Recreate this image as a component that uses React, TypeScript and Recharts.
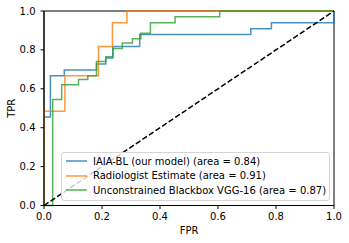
import {
  LineChart,
  Line,
  XAxis,
  YAxis,
  Legend,
  ReferenceArea,
} from "recharts";

// ROC points (corner points, like sklearn's roc_curve output)
const iaiaFpr = [0, 0, 0.022, 0.022, 0.07, 0.07, 0.181, 0.181, 0.213, 0.213, 0.237, 0.237, 0.33, 0.33, 0.713, 0.713, 0.784, 0.784, 1.0, 1.0];
const iaiaTpr = [0, 0.455, 0.455, 0.667, 0.667, 0.697, 0.697, 0.727, 0.727, 0.758, 0.758, 0.818, 0.818, 0.879, 0.879, 0.909, 0.909, 0.939, 0.939, 1.0];

const radioFpr = [0, 0, 0.072, 0.072, 0.188, 0.188, 0.236, 0.236, 0.286, 0.286, 1.0];
const radioTpr = [0, 0.485, 0.485, 0.667, 0.667, 0.818, 0.818, 0.939, 0.939, 1.0, 1.0];

const vggFpr = [0, 0.03, 0.03, 0.061, 0.061, 0.119, 0.119, 0.151, 0.151, 0.181, 0.181, 0.213, 0.213, 0.238, 0.238, 0.27, 0.27, 0.305, 0.305, 0.334, 0.334, 0.367, 0.367, 0.452, 0.452, 0.606, 0.606, 1.0];
const vggTpr = [0, 0, 0.545, 0.545, 0.621, 0.621, 0.648, 0.648, 0.667, 0.667, 0.74, 0.74, 0.765, 0.765, 0.807, 0.807, 0.836, 0.836, 0.857, 0.857, 0.885, 0.885, 0.939, 0.939, 0.97, 0.97, 1.0, 1.0];

const chanceFpr = [0, 1];
const chanceTpr = [0, 1];

const ticks = [0, 0.2, 0.4, 0.6, 0.8, 1.0];

const seriesNames = [
  "IAIA-BL (our model) (area = 0.84)",
  "Radiologist Estimate (area = 0.91)",
  "Unconstrained Blackbox VGG-16 (area = 0.87)",
];

const toPoints = (xs: number[], ys: number[]) =>
  xs.map((x, i) => ({ x, y: ys[i] }));

const font = "'DejaVu Sans', sans-serif";

function RocLegend({ payload }: any) {
  const items = (payload || []).filter((p: any) => p.type !== "none");
  return (
    <div
      style={{
        background: "rgba(255,255,255,0.8)",
        border: "1px solid #d5d5d5",
        borderRadius: 3,
        padding: "1px 4px 2px 3px",
        fontFamily: font,
        fontSize: 10,
        color: "#000",
        boxSizing: "border-box",
        width: 269,
      }}
    >
      {items.map((p: any) => (
        <div
          key={p.value}
          style={{ display: "flex", alignItems: "center", height: 14.5 }}
        >
          <svg width={24} height={4} style={{ marginRight: 4, flexShrink: 0 }}>
            <line x1={1} y1={2} x2={22} y2={2} stroke={p.color} strokeOpacity={0.8} strokeWidth={1.5} />
          </svg>
          <span style={{ whiteSpace: "nowrap" }}>{p.value}</span>
        </div>
      ))}
    </div>
  );
}

export default function App() {
  const tickStyle = { fill: "#000", fontSize: 10, fontFamily: font };
  return (
    <div style={{ position: "absolute", left: 0, top: 0, background: "#fff" }}>
      <LineChart
        width={349}
        height={243}
        margin={{ top: 11, right: 15, bottom: 0, left: 0 }}
      >
        <XAxis
          type="number"
          dataKey="x"
          domain={[0, 1]}
          ticks={ticks}
          tickFormatter={(v: number) => v.toFixed(1)}
          height={37.5}
          tickSize={3.5}
          tickMargin={3.5}
          tick={tickStyle}
          stroke="#000"
          label={{
            value: "FPR",
            position: "insideBottom",
            offset: 9,
            style: { fontSize: 10, fontFamily: font, fill: "#000" },
          }}
        />
        <YAxis
          type="number"
          dataKey="y"
          domain={[0, 1]}
          ticks={ticks}
          tickFormatter={(v: number) => v.toFixed(1)}
          width={44}
          tickSize={3.5}
          tickMargin={5}
          tick={tickStyle}
          stroke="#000"
          label={{
            value: "TPR",
            angle: -90,
            position: "insideLeft",
            offset: 11,
            style: { fontSize: 10, fontFamily: font, fill: "#000", textAnchor: "middle" },
          }}
        />
        <ReferenceArea
          x1={0}
          x2={1}
          y1={0}
          y2={1}
          fill="none"
          stroke="#000"
          strokeWidth={1}
        />
        <Line
          data={toPoints(iaiaFpr, iaiaTpr)}
          dataKey="y"
          name={seriesNames[0]}
          type="linear"
          stroke="#1f77b4"
          strokeOpacity={0.8}
          strokeWidth={1.5}
          dot={false}
          isAnimationActive={false}
        />
        <Line
          data={toPoints(radioFpr, radioTpr)}
          dataKey="y"
          name={seriesNames[1]}
          type="linear"
          stroke="#ff7f0e"
          strokeOpacity={0.8}
          strokeWidth={1.5}
          dot={false}
          isAnimationActive={false}
        />
        <Line
          data={toPoints(vggFpr, vggTpr)}
          dataKey="y"
          name={seriesNames[2]}
          type="linear"
          stroke="#2ca02c"
          strokeOpacity={0.8}
          strokeWidth={1.5}
          dot={false}
          isAnimationActive={false}
        />
        <Line
          data={toPoints(chanceFpr, chanceTpr)}
          dataKey="y"
          name="chance"
          type="linear"
          stroke="#000"
          strokeWidth={1.5}
          strokeDasharray="5.5 2.4"
          dot={false}
          legendType="none"
          isAnimationActive={false}
        />
        <Legend
          layout="vertical"
          align="center"
          verticalAlign="middle"
          content={<RocLegend />}
          wrapperStyle={{ position: "absolute", left: 61, top: 152, width: 269, bottom: "auto" }}
        />
      </LineChart>
    </div>
  );
}
